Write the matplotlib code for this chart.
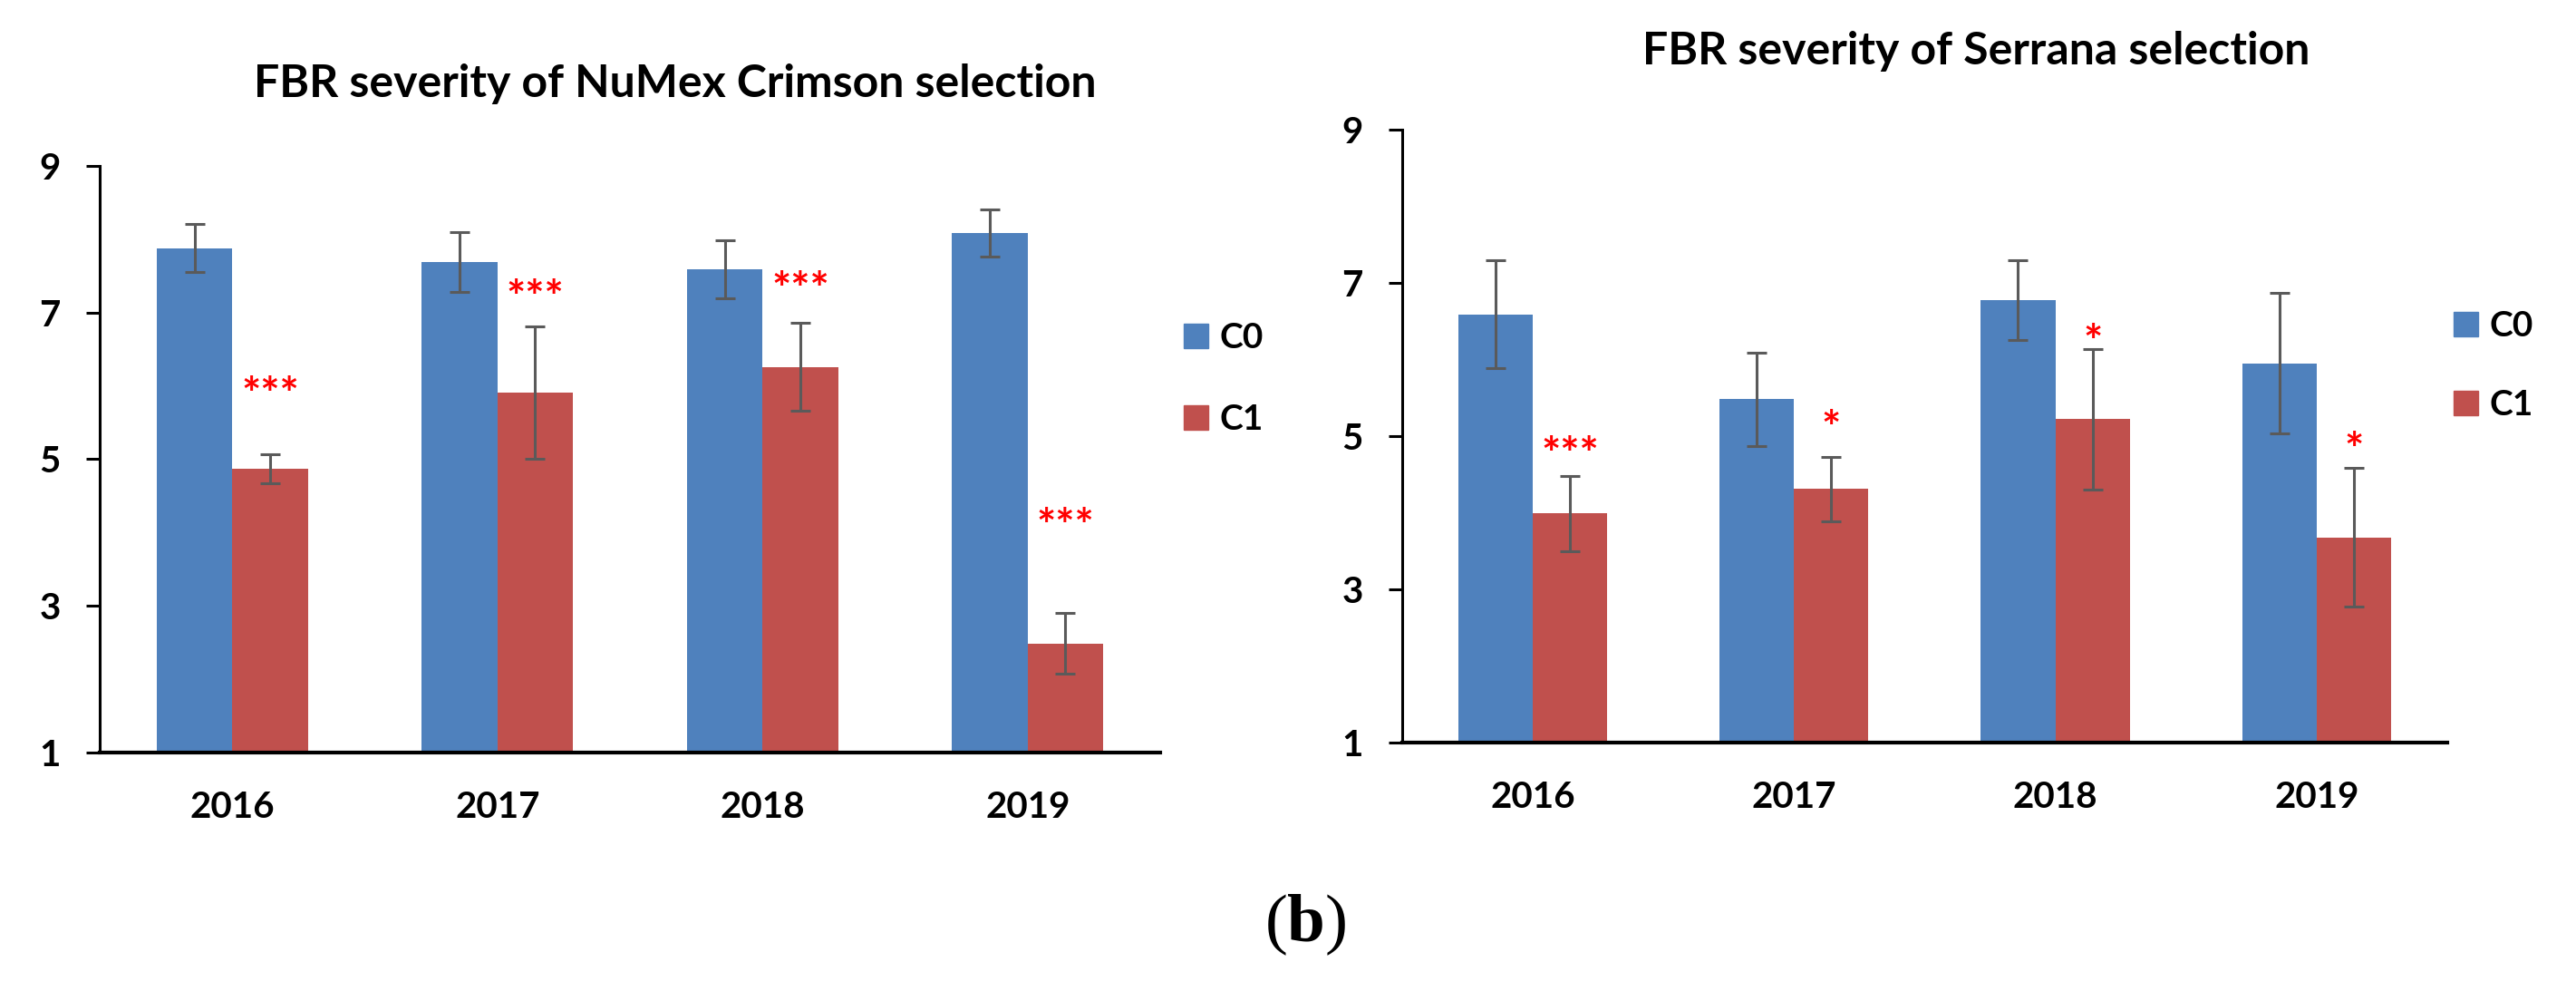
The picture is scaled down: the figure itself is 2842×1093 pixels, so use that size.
import matplotlib
matplotlib.use("Agg")
import matplotlib.pyplot as plt
import matplotlib.patches as mpatches
import numpy as np

# 데이터
years = ["2016", "2017", "2018", "2019"]
series = ["C0", "C1"]

crimson_c0 = [7.88, 7.69, 7.59, 8.08]
crimson_c0_err = [0.33, 0.41, 0.40, 0.32]
crimson_c1 = [4.87, 5.91, 6.26, 2.49]
crimson_c1_err = [0.20, 0.90, 0.60, 0.41]
crimson_marks = ["***", "***", "***", "***"]
crimson_mark_y = [6.04, 7.36, 7.47, 4.24]

serrana_c0 = [6.59, 5.48, 6.78, 5.95]
serrana_c0_err = [0.70, 0.61, 0.52, 0.92]
serrana_c1 = [3.99, 4.31, 5.22, 3.68]
serrana_c1_err = [0.49, 0.42, 0.92, 0.90]
serrana_marks = ["***", "*", "*", "*"]
serrana_mark_y = [4.91, 5.25, 6.37, 4.97]

yticks = [1, 3, 5, 7, 9]

# 스타일
blue = "#4F81BD"
red = "#C0504D"
err_color = "#5A5A5A"
font = "Lato"

plt.rcParams['font.family'] = [font, 'DejaVu Sans']
plt.rcParams['mathtext.fontset'] = 'custom'
plt.rcParams['mathtext.bf'] = 'Liberation Serif:bold'

fig = plt.figure(figsize=(28.42, 10.93), dpi=100)
ax1 = fig.add_axes([0.0387, 0.2406, 0.4117, 0.5920])
ax2 = fig.add_axes([0.5443, 0.2507, 0.4057, 0.6185])


def draw_panel(ax, c0, c0_err, c1, c1_err, marks, mark_y, leg_x, leg_y, leg_space):
    x = np.arange(len(years))
    w = 0.285
    ax.bar(x - w / 2, [v - 1 for v in c0], w, bottom=1, color=blue, label=series[0])
    ax.bar(x + w / 2, [v - 1 for v in c1], w, bottom=1, color=red, label=series[1])
    ax.errorbar(x - w / 2, c0, yerr=c0_err, fmt='none', ecolor=err_color,
                elinewidth=2.2, capsize=8, capthick=2.2)
    ax.errorbar(x + w / 2, c1, yerr=c1_err, fmt='none', ecolor=err_color,
                elinewidth=2.2, capsize=8, capthick=2.2)
    # 유의성 별표 (별표 글리프 중심을 값에 맞춤)
    for xi, m, my in zip(x, marks, mark_y):
        ax.annotate(m, (xi + w / 2, my), xytext=(0, -21), textcoords='offset points',
                    color='red', ha='center', va='baseline',
                    fontsize=36, fontweight='bold')

    ax.set_xlim(-0.5, len(years) - 0.5)
    ax.set_ylim(1, 9)
    ax.set_yticks(yticks)
    ax.set_xticks(x)
    ax.set_xticklabels(years)
    for s in ['top', 'right']:
        ax.spines[s].set_visible(False)
    ax.spines['left'].set_linewidth(2.2)
    ax.spines['bottom'].set_linewidth(3)
    ax.tick_params(axis='y', length=11, width=2.2, pad=20, labelsize=29)
    ax.tick_params(axis='x', length=0, pad=30, labelsize=29)
    for lab in ax.get_xticklabels() + ax.get_yticklabels():
        lab.set_fontweight('bold')

    handles = [mpatches.Patch(color=blue), mpatches.Patch(color=red)]
    leg = ax.legend(handles, series, loc='center left', bbox_to_anchor=(leg_x, leg_y),
                    frameon=False, fontsize=28, handlelength=0.7, handleheight=0.7,
                    handletextpad=0.31, labelspacing=leg_space, borderpad=0,
                    borderaxespad=0)
    for t in leg.get_texts():
        t.set_fontweight('bold')


draw_panel(ax1, crimson_c0, crimson_c0_err, crimson_c1, crimson_c1_err,
           crimson_marks, crimson_mark_y, 1.022, 0.637, 1.41)
draw_panel(ax2, serrana_c0, serrana_c0_err, serrana_c1, serrana_c1_err,
           serrana_marks, serrana_mark_y, 1.006, 0.615, 1.35)

fig.text(0.2621, 0.9158, "FBR severity of NuMex Crimson selection", ha='center',
         va='center', fontsize=36, fontweight='bold')
fig.text(0.7671, 0.9479, "FBR severity of Serrana selection", ha='center',
         va='center', fontsize=36, fontweight='bold')
# 패널 라벨: 괄호는 보통, b는 굵게
fig.text(0.5067, 0.0668, r"($\mathbf{b}$)", ha='center', va='center', fontsize=54,
         family=['Liberation Serif', 'DejaVu Serif'])

fig.savefig("out.png", dpi=100)
